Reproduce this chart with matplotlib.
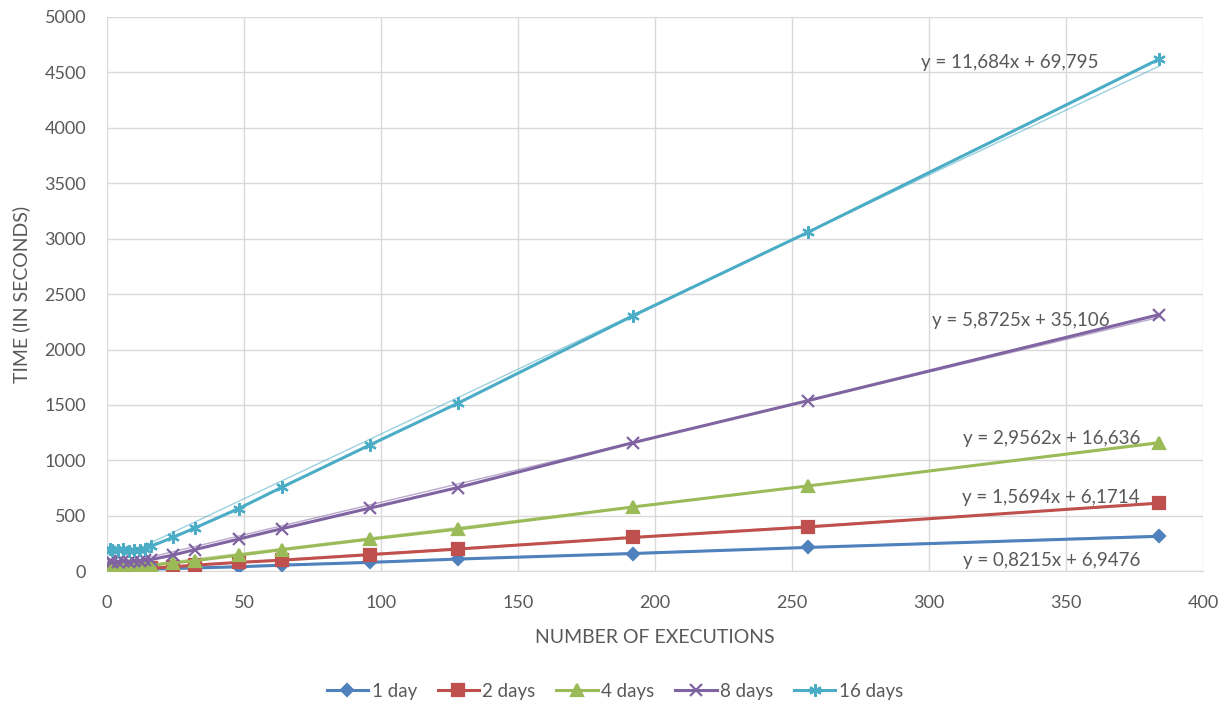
import matplotlib

matplotlib.use("Agg")
import matplotlib.pyplot as plt
import numpy as np

plt.rcParams["font.family"] = ["Lato", "DejaVu Sans"]

# executions (x) shared by all series
executions = [1, 2, 4, 6, 8, 10, 12, 14, 16, 24, 32, 48, 64, 96, 128, 192, 256, 384]

time_1day = [12, 10, 12, 14, 14, 16, 17, 18, 20, 24, 30, 40, 55, 80, 110, 160, 215, 315]
time_2days = [22, 20, 22, 24, 22, 25, 24, 26, 28, 40, 55, 80, 100, 150, 200, 305, 400, 615]
time_4days = [45, 40, 42, 48, 45, 50, 48, 52, 55, 75, 95, 145, 195, 290, 380, 580, 770, 1160]
time_8days = [90, 85, 80, 95, 88, 92, 90, 100, 105, 145, 195, 290, 385, 570, 755, 1160, 1540, 2315]
time_16days = [205, 195, 190, 200, 185, 195, 190, 205, 225, 305, 390, 565, 760, 1140, 1515, 2305, 3060, 4620]

labels = ["1 day", "2 days", "4 days", "8 days", "16 days"]
series = [time_1day, time_2days, time_4days, time_8days, time_16days]
colours = ["#4F81BD", "#C0504D", "#9BBB59", "#8064A2", "#4BACC6"]
markers = ["D", "s", "^", "x", (6, 2, 0)]
msizes = [6, 8, 8, 8, 9]

# linear trend lines shown on chart: (slope, intercept, label text, label x, label y)
trend_slope = [0.8215, 1.5694, 2.9562, 5.8725, 11.684]
trend_icpt = [6.9476, 6.1714, 16.636, 35.106, 69.795]
trend_text = ["y = 0,8215x + 6,9476", "y = 1,5694x + 6,1714", "y = 2,9562x + 16,636",
              "y = 5,8725x + 35,106", "y = 11,684x + 69,795"]
label_x = [377, 377, 377, 366, 362]
label_y = [100, 665, 1195, 2260, 4590]

grey = "#595959"
fig = plt.figure(figsize=(12.3, 7.07), dpi=100)
ax = fig.add_axes([0.087, 0.192, 0.891, 0.784])

for ys, lab, c, m, ms in zip(series, labels, colours, markers, msizes):
    ax.plot(executions, ys, color=c, lw=2.2, marker=m, markersize=ms,
            markeredgewidth=1.6, label=lab, zorder=3)

xs = np.array([executions[0], executions[-1]])
for k, b, c, txt, tx, ty in zip(trend_slope, trend_icpt, colours, trend_text, label_x, label_y):
    ax.plot(xs, k * xs + b, color=c, lw=1.0, alpha=0.55, zorder=2)
    ax.text(tx, ty, txt, ha="right", va="center", fontsize=13.5, color=grey, zorder=4)

ax.set_xlim(0, 400)
ax.set_ylim(0, 5000)
ax.set_xticks(range(0, 401, 50))
ax.set_yticks(range(0, 5001, 500))
ax.grid(True, color="#D9D9D9", lw=1)
ax.set_axisbelow(True)
for s in ["top", "right", "left"]:
    ax.spines[s].set_visible(False)
ax.spines["bottom"].set_color("#D9D9D9")
ax.tick_params(length=0, labelsize=13, colors=grey)
ax.tick_params(axis="x", pad=17)
ax.tick_params(axis="y", pad=15)
ax.set_xlabel("NUMBER OF EXECUTIONS", fontsize=14, color=grey, labelpad=13)
ax.set_ylabel("TIME (IN SECONDS)", fontsize=14, color=grey, labelpad=10)

fig.legend(loc="center", bbox_to_anchor=(0.5, 0.022), ncol=5, frameon=False,
           fontsize=13.5, labelcolor=grey, handlelength=2.2, columnspacing=1.1, handletextpad=0.2)

fig.savefig("out.png", dpi=100)
